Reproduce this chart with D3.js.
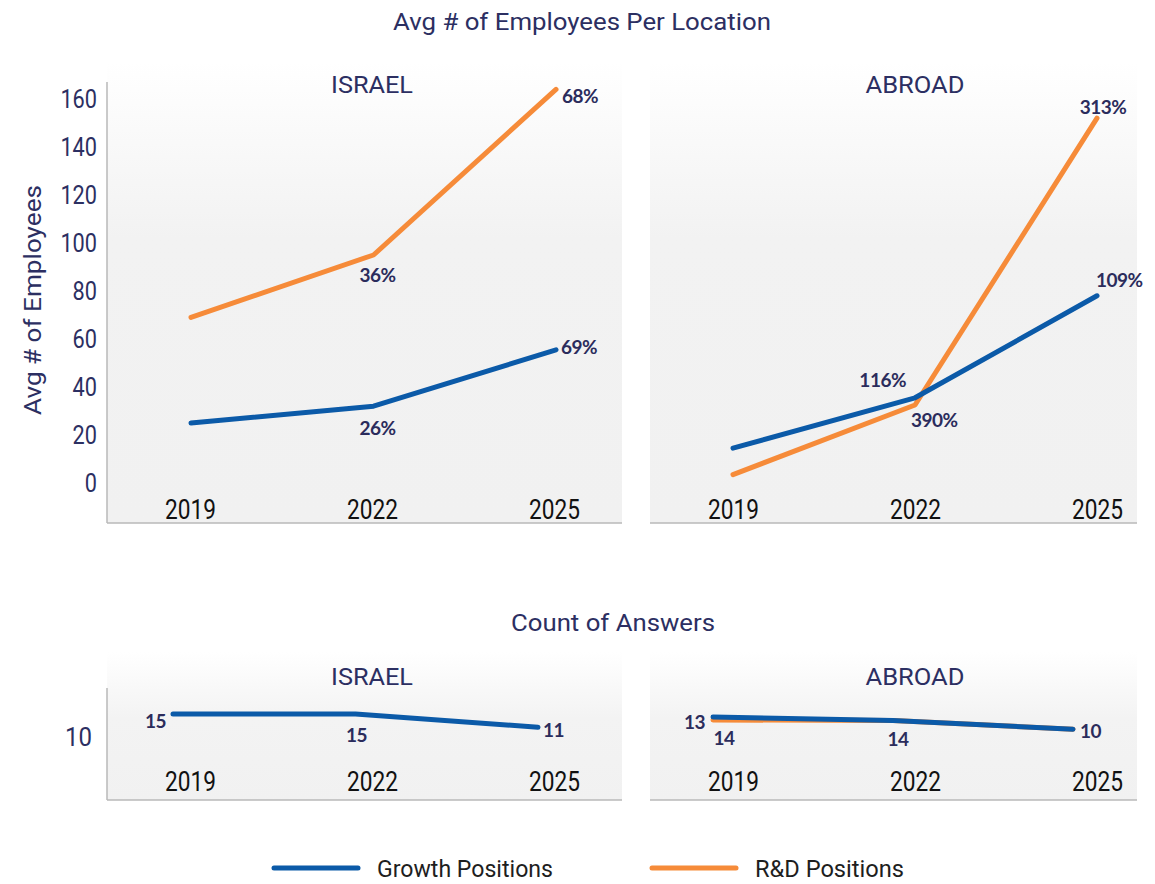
<!DOCTYPE html>
<html>
<head>
<meta charset="utf-8">
<script src="https://cdn.jsdelivr.net/npm/d3@7"></script>
<style>
  body { margin: 0; background: #fff; }
  text { font-family: Roboto, "Noto Sans", sans-serif; }
</style>
</head>
<body>
<svg id="chart"></svg>
<script>
// categories
const years = ["2019", "2022", "2025"];
const seriesNames = ["Growth Positions", "R&D Positions"];
const locations = ["ISRAEL", "ABROAD"];

// avg # of employees
const israelGrowth = [25, 32, 55.5];
const israelRD = [69, 95, 164];
const abroadGrowth = [14.5, 35.5, 78];
const abroadRD = [3.5, 32.5, 152];

// % change labels
const israelGrowthPct = ["", "26%", "69%"];
const israelRDPct = ["", "36%", "68%"];
const abroadGrowthPct = ["", "116%", "109%"];
const abroadRDPct = ["", "390%", "313%"];

// count of answers
const israelGrowthCount = [15, 15, 11];
const abroadGrowthCount = [14.1, 13.0, 10.4];
const abroadRDCount = [13.2, 13.0, 10.4];
const israelCountLabels = ["15", "15", "11"];
const abroadGrowthCountLabels = ["13", "", "10"];
const abroadRDCountLabels = ["14", "14", ""];

// axis ticks
const employeeTicks = [0, 20, 40, 60, 80, 100, 120, 140, 160];
const countTicks = [10];

const W = 1155, H = 884;
const navy = "#2c2f62";
const blue = "#0b5aa8";
const orange = "#f68b39";
const axisGrey = "#b9b9b9";
const titleWidths = { ISRAEL: 82, ABROAD: 99 };

const svg = d3.select("#chart").attr("width", W).attr("height", H);

// background gradient for the panels
const defs = svg.append("defs");
const grad = defs.append("linearGradient")
    .attr("id", "panelBg").attr("x1", 0).attr("x2", 0).attr("y1", 0).attr("y2", 1);
grad.append("stop").attr("offset", "0%").attr("stop-color", "#ffffff");
grad.append("stop").attr("offset", "38%").attr("stop-color", "#f2f2f2");
grad.append("stop").attr("offset", "100%").attr("stop-color", "#f1f1f1");
const gradSmall = defs.append("linearGradient")
    .attr("id", "panelBgSmall").attr("x1", 0).attr("x2", 0).attr("y1", 0).attr("y2", 1);
gradSmall.append("stop").attr("offset", "0%").attr("stop-color", "#ffffff");
gradSmall.append("stop").attr("offset", "45%").attr("stop-color", "#f3f3f3");
gradSmall.append("stop").attr("offset", "100%").attr("stop-color", "#f1f1f1");

// helper for text squeezed to a known width (the original uses a narrow face)
function addText(g, x, y, str, size, color, width, anchor = "middle") {
  const t = g.append("text")
    .attr("x", x).attr("y", y)
    .attr("text-anchor", anchor)
    .attr("dominant-baseline", "central")
    .style("font-size", size + "px")
    .attr("fill", color)
    .text(str);
  if (width) t.attr("textLength", width).attr("lengthAdjust", "spacingAndGlyphs");
  return t;
}

function pctLabel(g, x, y, anchor, str) {
  g.append("text")
    .attr("x", x)
    .attr("y", y)
    .attr("text-anchor", anchor)
    .attr("dominant-baseline", "central")
    .style("font-family", "Lato, 'Open Sans', sans-serif")
    .style("font-weight", 700)
    .style("font-size", "19px")
    .style("letter-spacing", "-0.5px")
    .attr("fill", "#2b2c5c")
    .text(str);
}

// ---------- top section ----------
addText(svg, 582, 22, "Avg # of Employees Per Location", 24, navy, 378);

const yTop = d3.scaleLinear().domain([0, 160]).range([483, 99]);

const topPanels = [
  { name: locations[0], x0: 107, x1: 622, labelRange: [190, 554], lineRange: [191, 556],
    growth: israelGrowth, rd: israelRD, gPct: israelGrowthPct, rPct: israelRDPct, axis: true,
    gOff: [null, { dx: 4, dy: 21, a: "middle" }, { dx: 5, dy: -3, a: "start" }],
    rOff: [null, { dx: 4, dy: 19, a: "middle" }, { dx: 6, dy: 6, a: "start" }] },
  { name: locations[1], x0: 650, x1: 1137, labelRange: [733, 1097], lineRange: [733, 1097],
    growth: abroadGrowth, rd: abroadRD, gPct: abroadGrowthPct, rPct: abroadRDPct, axis: false,
    gOff: [null, { dx: -9, dy: -18, a: "end" }, { dx: -1, dy: -16, a: "start" }],
    rOff: [null, { dx: -4, dy: 14, a: "start" }, { dx: 6, dy: -12, a: "middle" }] }
];

topPanels.forEach(p => {
  const g = svg.append("g");
  g.append("rect")
    .attr("x", p.x0).attr("y", 62)
    .attr("width", p.x1 - p.x0).attr("height", 523 - 62)
    .attr("fill", "url(#panelBg)");
  g.append("line")
    .attr("x1", p.x0).attr("x2", p.x1).attr("y1", 523).attr("y2", 523)
    .attr("stroke", axisGrey).attr("stroke-width", 1.5);
  if (p.axis) {
    g.append("line")
      .attr("x1", p.x0).attr("x2", p.x0).attr("y1", 82).attr("y2", 523)
      .attr("stroke", axisGrey).attr("stroke-width", 1.5);
  }
  addText(g, (p.labelRange[0] + p.labelRange[1]) / 2, 85, p.name, 24, navy, titleWidths[p.name]);

  const xLab = d3.scalePoint().domain(years).range(p.labelRange);
  const xLine = d3.scalePoint().domain(years).range(p.lineRange);

  // year labels
  const xAxis = g.append("g")
    .attr("transform", "translate(0,510)")
    .call(d3.axisBottom(xLab).tickSize(0).tickPadding(0));
  xAxis.select(".domain").remove();
  xAxis.selectAll("text")
    .style("font-size", "27px")
    .attr("fill", "#111")
    .attr("textLength", 51).attr("lengthAdjust", "spacingAndGlyphs")
    .attr("dy", 0).attr("dominant-baseline", "central");

  const line = d3.line().x((d, i) => xLine(years[i])).y(d => yTop(d));

  [[p.rd, orange, p.rPct, p.rOff], [p.growth, blue, p.gPct, p.gOff]].forEach(([vals, col, pct, off]) => {
    g.append("path")
      .datum(vals)
      .attr("d", line)
      .attr("fill", "none")
      .attr("stroke", col)
      .attr("stroke-width", 5)
      .attr("stroke-linecap", "round")
      .attr("stroke-linejoin", "round");
    vals.forEach((v, i) => {
      if (!pct[i]) return;
      const o = off[i];
      pctLabel(g, xLine(years[i]) + o.dx, yTop(v) + o.dy, o.a, pct[i]);
    });
  });
});

// y axis of the top section
const yAxisG = svg.append("g")
  .attr("transform", "translate(97,0)")
  .call(d3.axisLeft(yTop).tickValues(employeeTicks).tickSize(0).tickPadding(0));
yAxisG.select(".domain").remove();
yAxisG.selectAll("text")
  .style("font-size", "25px")
  .attr("fill", navy)
  .attr("dy", 0).attr("dominant-baseline", "central")
  .attr("textLength", d => String(d).length * 12.2)
  .attr("lengthAdjust", "spacingAndGlyphs");

addText(svg, 0, 0, "Avg # of Employees", 23, navy, 230)
  .attr("transform", "translate(33,300) rotate(-90)");

// ---------- bottom section ----------
addText(svg, 613, 623, "Count of Answers", 24, navy, 204);

const yBot = d3.scaleLinear().domain([10, 15]).range([730.5, 714]);

const bottomPanels = [
  { name: locations[0], x0: 107, x1: 622, labelRange: [190, 554], lineRange: [173, 538], axis: true,
    series: [
      { vals: israelGrowthCount, col: blue, labels: israelCountLabels,
        off: [{ dx: -7, dy: 6, a: "end" }, { dx: 1, dy: 20, a: "middle" }, { dx: 5, dy: 2, a: "start" }] }
    ] },
  { name: locations[1], x0: 650, x1: 1137, labelRange: [733, 1097], lineRange: [713, 1073], axis: false,
    series: [
      { vals: abroadRDCount, col: orange, labels: abroadRDCountLabels,
        off: [{ dx: 11, dy: 18, a: "middle" }, { dx: 5, dy: 18, a: "middle" }, null] },
      { vals: abroadGrowthCount, col: blue, labels: abroadGrowthCountLabels,
        off: [{ dx: -8, dy: 5, a: "end" }, null, { dx: 7, dy: 1, a: "start" }] }
    ] }
];

bottomPanels.forEach(p => {
  const g = svg.append("g");
  g.append("rect")
    .attr("x", p.x0).attr("y", 652)
    .attr("width", p.x1 - p.x0).attr("height", 800 - 652)
    .attr("fill", "url(#panelBgSmall)");
  g.append("line")
    .attr("x1", p.x0).attr("x2", p.x1).attr("y1", 800).attr("y2", 800)
    .attr("stroke", axisGrey).attr("stroke-width", 1.5);
  if (p.axis) {
    g.append("line")
      .attr("x1", p.x0).attr("x2", p.x0).attr("y1", 688).attr("y2", 800)
      .attr("stroke", axisGrey).attr("stroke-width", 1.5);
  }
  addText(g, (p.labelRange[0] + p.labelRange[1]) / 2, 677, p.name, 24, navy, titleWidths[p.name]);

  const xLab = d3.scalePoint().domain(years).range(p.labelRange);
  const xLine = d3.scalePoint().domain(years).range(p.lineRange);

  const xAxis = g.append("g")
    .attr("transform", "translate(0,782)")
    .call(d3.axisBottom(xLab).tickSize(0).tickPadding(0));
  xAxis.select(".domain").remove();
  xAxis.selectAll("text")
    .style("font-size", "27px")
    .attr("fill", "#111")
    .attr("textLength", 51).attr("lengthAdjust", "spacingAndGlyphs")
    .attr("dy", 0).attr("dominant-baseline", "central");

  const line = d3.line().x((d, i) => xLine(years[i])).y(d => yBot(d));

  p.series.forEach(s => {
    g.append("path")
      .datum(s.vals)
      .attr("d", line)
      .attr("fill", "none")
      .attr("stroke", s.col)
      .attr("stroke-width", 5)
      .attr("stroke-linecap", "round")
      .attr("stroke-linejoin", "round");
    s.vals.forEach((v, i) => {
      if (!s.labels[i] || !s.off[i]) return;
      const o = s.off[i];
      pctLabel(g, xLine(years[i]) + o.dx, yBot(v) + o.dy, o.a, s.labels[i]);
    });
  });
});

const yBotAxis = svg.append("g")
  .attr("transform", "translate(92,0)")
  .call(d3.axisLeft(yBot).tickValues(countTicks).tickFormat(d3.format("d")).tickSize(0).tickPadding(0));
yBotAxis.select(".domain").remove();
yBotAxis.selectAll("text")
  .style("font-size", "25px")
  .attr("fill", navy)
  .attr("dy", 6).attr("dominant-baseline", "central")
  .attr("textLength", 27).attr("lengthAdjust", "spacingAndGlyphs");

// ---------- legend ----------
const legend = svg.append("g");
const legendX = d3.scalePoint().domain(seriesNames).range([272, 650]);
const legendColor = d3.scaleOrdinal().domain(seriesNames).range([blue, orange]);
const legendWidths = [176, 149];
seriesNames.forEach((name, i) => {
  const x = legendX(name);
  legend.append("line")
    .attr("x1", x + 2).attr("x2", x + 86)
    .attr("y1", 868).attr("y2", 868)
    .attr("stroke", legendColor(name))
    .attr("stroke-width", 5)
    .attr("stroke-linecap", "round");
  addText(legend, x + 105, 869, name, 24, "#1e1e1e", legendWidths[i], "start");
});
</script>
</body>
</html>
